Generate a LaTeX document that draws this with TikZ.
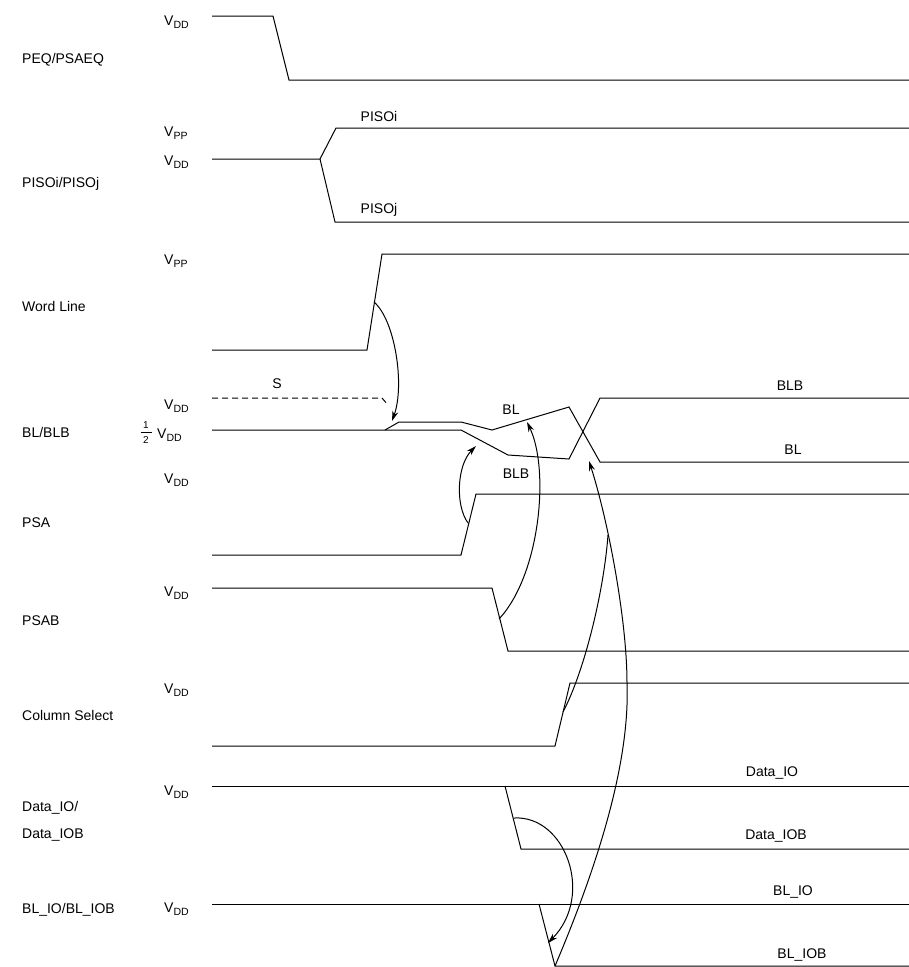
\documentclass[tikz,border=0pt]{standalone}
\usepackage{fontspec}
\setmainfont{Liberation Sans}
\usetikzlibrary{arrows.meta}
\newcommand\Vlev[1]{V\raisebox{-0.5ex}{\fontsize{10.5}{11}\selectfont #1}}
\begin{document}
\begin{tikzpicture}[x=1pt,y=-1pt,
  wave/.style={line width=1pt, line join=miter},
  lbl/.style={font=\fontsize{14}{16}\selectfont, inner sep=0pt},
  sig/.style={lbl, anchor=base west},
  lev/.style={lbl, anchor=base west},
  tag/.style={lbl, anchor=center},
  cause/.style={line width=1pt, -{Stealth[length=10pt,width=6pt]}},
]
\useasboundingbox (0,0) rectangle (909,967);

% ---------- signal names ----------
\node[sig] (nPEQ)  at (22,63)  {PEQ/PSAEQ};
\node[sig] (nPISO) at (22,187) {PISOi/PISOj};
\node[sig] (nWL)   at (22,311) {Word Line};
\node[sig] (nBL)   at (22,437) {BL/BLB};
\node[sig] (nPSA)  at (22,527) {PSA};
\node[sig] (nPSAB) at (22,625) {PSAB};
\node[sig] (nCS)   at (22,720) {Column Select};
\node[sig] (nDIO1) at (22,811) {Data\_IO/};
\node[sig] (nDIO2) at (22,838) {Data\_IOB};
\node[sig] (nBLIO) at (22,913) {BL\_IO/BL\_IOB};

% ---------- level labels ----------
\node[lev] (lPEQ)   at (164,25)  {\Vlev{DD}};
\node[lev] (lPISOp) at (164,136) {\Vlev{PP}};
\node[lev] (lPISOd) at (164,165) {\Vlev{DD}};
\node[lev] (lWL)    at (164,264) {\Vlev{PP}};
\node[lev] (lBLd)   at (164,409) {\Vlev{DD}};
\node[lev] (lBLh)   at (157,438) {\Vlev{DD}};
\node[font=\fontsize{10}{11}\selectfont, inner sep=0pt] (hn) at (146,425.5) {1};
\node[font=\fontsize{10}{11}\selectfont, inner sep=0pt] (hd) at (146,440.5) {2};
\coordinate (hb1) at (140.5,432.5);
\coordinate (hb2) at (151.5,432.5);
\draw[line width=0.6pt] (hb1) -- (hb2);
\node[lev] (lPSA)   at (164,483) {\Vlev{DD}};
\node[lev] (lPSAB)  at (164,596) {\Vlev{DD}};
\node[lev] (lCS)    at (164,693) {\Vlev{DD}};
\node[lev] (lDIO)   at (164,795) {\Vlev{DD}};
\node[lev] (lBLIO)  at (164,912) {\Vlev{DD}};

% ---------- waveforms ----------
% PEQ/PSAEQ
\coordinate (p0) at (212,16); \coordinate (p1) at (273,16);
\coordinate (p2) at (289,80); \coordinate (p3) at (909,80);
\draw[wave] (p0) -- (p1) -- (p2) -- (p3);

% PISOi / PISOj
\coordinate (i0) at (212,159); \coordinate (i1) at (320,159);
\coordinate (i2) at (336,128); \coordinate (i3) at (909,128);
\coordinate (j2) at (335,222); \coordinate (j3) at (909,222);
\draw[wave] (i0) -- (i1) -- (i2) -- (i3);
\draw[wave] (i1) -- (j2) -- (j3);
\node[tag] (tPISOi) at (379,116) {PISOi};
\node[tag] (tPISOj) at (379,210) {PISOj};

% Word line
\coordinate (w0) at (212,350); \coordinate (w1) at (367,350);
\coordinate (w2) at (382,254); \coordinate (w3) at (909,254);
\draw[wave] (w0) -- (w1) -- (w2) -- (w3);

% BL / BLB
\coordinate (s0) at (212,398); \coordinate (s1) at (382,398);
\coordinate (s2) at (388,405);
\draw[wave, dash pattern=on 6pt off 4pt] (s0) -- (s1) -- (s2);
\node[tag] (tS) at (277,384) {S};
\coordinate (b0) at (212,430); \coordinate (b1) at (385,430);
\coordinate (u1) at (399,422); \coordinate (u2) at (461,422);
\coordinate (u3) at (492,430); \coordinate (u4) at (569,407);
\coordinate (u5) at (600,462); \coordinate (u6) at (909,462);
\coordinate (d1) at (461,430); \coordinate (d2) at (508,455);
\coordinate (d3) at (569,459); \coordinate (d4) at (600,398);
\coordinate (d5) at (909,398);
\draw[wave] (b0) -- (b1) -- (u1) -- (u2) -- (u3) -- (u4) -- (u5) -- (u6);
\draw[wave] (b1) -- (d1) -- (d2) -- (d3) -- (d4) -- (d5);
\node[tag] (tBLm)  at (511,410) {BL};
\node[tag] (tBLBm) at (516,474) {BLB};
\node[tag] (tBLBr) at (790,386) {BLB};
\node[tag] (tBLr)  at (793,450) {BL};

% PSA
\coordinate (a0) at (212,555); \coordinate (a1) at (461,555);
\coordinate (a2) at (476,494); \coordinate (a3) at (909,494);
\draw[wave] (a0) -- (a1) -- (a2) -- (a3);

% PSAB
\coordinate (q0) at (212,588); \coordinate (q1) at (492,588);
\coordinate (q2) at (508,651); \coordinate (q3) at (909,651);
\draw[wave] (q0) -- (q1) -- (q2) -- (q3);

% Column select
\coordinate (c0) at (212,746); \coordinate (c1) at (555,746);
\coordinate (c2) at (570,683); \coordinate (c3) at (909,683);
\draw[wave] (c0) -- (c1) -- (c2) -- (c3);

% Data_IO / Data_IOB
\coordinate (e0) at (212,786); \coordinate (e3) at (909,786);
\coordinate (e1) at (505,786); \coordinate (e2) at (521,849);
\coordinate (e4) at (909,849);
\draw[wave] (e0) -- (e3);
\draw[wave] (e1) -- (e2) -- (e4);
\node[tag] (tDIO)  at (772,773) {Data\_IO};
\node[tag] (tDIOB) at (776,836) {Data\_IOB};

% BL_IO / BL_IOB
\coordinate (f0) at (212,904); \coordinate (f3) at (909,904);
\coordinate (f1) at (539,904); \coordinate (f2) at (555,966);
\coordinate (f4) at (909,966);
\draw[wave] (f0) -- (f3);
\draw[wave] (f1) -- (f2) -- (f4);
\node[tag] (tBLIO)  at (793,892) {BL\_IO};
\node[tag] (tBLIOB) at (802,955) {BL\_IOB};

% ---------- causality arrows ----------
\coordinate (wlA) at (374,302); \coordinate (wlB) at (392,421);
\draw[cause] (wlA) .. controls (395,320) and (405,385) .. (wlB);

\coordinate (psaA) at (468,523); \coordinate (psaB) at (476,446);
\draw[cause] (psaA) .. controls (455,505) and (457,465) .. (psaB);

\coordinate (psbA) at (499,619); \coordinate (psbB) at (527,422);
\draw[cause] (psbA) .. controls (540,575) and (550,470) .. (psbB);

\coordinate (lgA) at (555,966); \coordinate (lgM) at (627,683);
\coordinate (lgB) at (589,461);
\draw[cause] (lgA) .. controls (600,860) and (630,760) .. (lgM)
  .. controls (627,620) and (608,520) .. (lgB);

\coordinate (csA) at (563,712); \coordinate (csB) at (608,535);
\draw[line width=1pt] (csA) .. controls (585,670) and (604,590) .. (csB);

\coordinate (dtA) at (514,818); \coordinate (dtB) at (548,943);
\draw[cause] (dtA) .. controls (565,815) and (595,895) .. (dtB);

\end{tikzpicture}
\end{document}
